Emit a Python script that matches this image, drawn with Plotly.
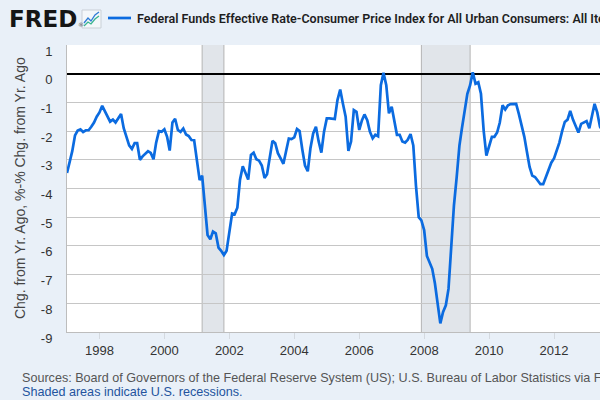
import pandas as pd
import plotly.graph_objects as go

# monthly values, Jan 1997 onward (Fed funds yoy chg minus CPI yoy %)
start_month = "1997-01-01"
spread = [
    -3.46, -3.10, -2.70, -2.15, -1.98, -1.94, -2.03, -1.97, -1.97, -1.85, -1.70, -1.50,  # 1997
    -1.35, -1.12, -1.30, -1.50, -1.67, -1.60, -1.70, -1.55, -1.40, -1.90, -2.25, -2.50,  # 1998
    -2.62, -2.42, -2.42, -3.00, -2.88, -2.80, -2.70, -2.76, -2.98, -2.40, -2.00, -2.02,  # 1999
    -1.94, -2.20, -2.68, -1.70, -1.57, -1.96, -2.03, -1.91, -2.12, -2.17, -2.31, -2.32,  # 2000
    -3.10, -3.71, -3.55, -4.73, -5.62, -5.77, -5.50, -5.56, -6.06, -6.17, -6.32, -6.17,  # 2001
    -5.54, -4.87, -4.90, -4.67, -3.69, -3.23, -3.45, -3.69, -2.83, -2.75, -2.98, -3.03,  # 2002
    -3.20, -3.63, -3.50, -2.98, -2.34, -2.42, -2.77, -2.95, -3.14, -2.70, -2.26, -2.28,  # 2003
    -2.22, -1.93, -2.00, -2.65, -3.20, -3.40, -2.60, -2.08, -1.85, -2.35, -2.75, -2.02,  # 2004
    -1.56, -1.56, -1.58, -1.58, -0.92, -0.55, -1.04, -1.50, -2.69, -2.36, -1.27, -1.33,  # 2005
    -1.96, -1.62, -1.42, -1.62, -2.02, -2.25, -2.13, -2.18, -0.40, 0.03, -0.40, -1.38,   # 2006
    -1.15, -1.60, -2.13, -2.13, -2.36, -2.40, -2.30, -2.10, -2.50, -3.90, -5.00, -5.11,  # 2007
    -5.45, -6.35, -6.60, -6.80, -7.30, -8.00, -8.70, -8.30, -8.07, -7.50, -6.00, -4.60,  # 2008
    -3.60, -2.50, -1.90, -1.30, -0.70, -0.40, 0.05, -0.35, -0.30, -0.70, -2.00, -2.85,   # 2009
    -2.50, -2.20, -2.20, -2.05, -1.70, -1.10, -1.25, -1.10, -1.06, -1.05, -1.05, -1.40,  # 2010
    -1.75, -2.20, -2.70, -3.25, -3.55, -3.60, -3.72, -3.85, -3.85, -3.60, -3.35, -3.10,  # 2011
    -2.95, -2.70, -2.40, -2.00, -1.68, -1.60, -1.30, -1.60, -1.80, -2.05, -1.75, -1.70,  # 2012
    -1.65, -1.90, -1.45, -1.05, -1.35, -1.85, -2.00,                                      # 2013
]
recessions = [("2001-03-01", "2001-11-01"), ("2007-12-01", "2009-06-01")]
y_ticks = [1, 0, -1, -2, -3, -4, -5, -6, -7, -8, -9]
y_tick_labels = ["1", "0", "-1", "-2", "-3", "-4", "-5", "-6", "-7", "-8", "-9"]

series_name = ("Federal Funds Effective Rate-Consumer Price Index for All Urban "
               "Consumers: All Items in U.S. City Average")
sources = ("Sources: Board of Governors of the Federal Reserve System (US); "
           "U.S. Bureau of Labor Statistics via FRED®")

dates = pd.date_range(start_month, periods=len(spread), freq="MS")

W, H = 600, 400
L, R, T, B = 67, 0, 45, 68
LINE_COLOR = "#0b6be0"


# pixel -> paper helpers for the decorations
def px(x):
    return (x - L) / (W - L - R)


def py(y):
    return (H - B - y) / (H - T - B)


fig = go.Figure()
fig.add_trace(go.Scatter(
    x=dates, y=spread, mode="lines",
    line=dict(color=LINE_COLOR, width=2.7),
    showlegend=False, hoverinfo="skip",
))

shapes = []
for r0, r1 in recessions:
    shapes.append(dict(type="rect", xref="x", yref="paper", x0=r0, x1=r1, y0=0, y1=1,
                       fillcolor="#e1e5ea", line=dict(width=0), layer="below"))
    for edge in (r0, r1):
        shapes.append(dict(type="line", xref="x", yref="paper", x0=edge, x1=edge,
                           y0=0, y1=1, line=dict(color="#b4b4b4", width=1), layer="below"))

# legend sample line
shapes.append(dict(type="line", xref="paper", yref="paper", x0=px(108), x1=px(131),
                   y0=py(18), y1=py(18), line=dict(color=LINE_COLOR, width=2.7)))

# little FRED chart icon
shapes.append(dict(type="rect", xref="paper", yref="paper", x0=px(82), x1=px(101),
                   y0=py(28), y1=py(10), fillcolor="#f4f7fa",
                   line=dict(color="#c9cfd6", width=1)))
shapes.append(dict(type="path", xref="paper", yref="paper",
                   path=f"M {px(84)} {py(23)} L {px(88)} {py(18)} L {px(91)} {py(21)} "
                        f"L {px(95)} {py(15)} L {px(99)} {py(12)}",
                   line=dict(color="#2f7bd6", width=1.3)))
shapes.append(dict(type="path", xref="paper", yref="paper",
                   path=f"M {px(84)} {py(26)} L {px(88)} {py(22)} L {px(91)} {py(24)} "
                        f"L {px(95)} {py(19)} L {px(99)} {py(16)}",
                   line=dict(color="#3bb58f", width=1.3)))

annotations = [
    dict(text="<b>FRED</b>", x=px(7), y=py(19), xref="paper", yref="paper",
         xanchor="left", yanchor="middle", showarrow=False,
         font=dict(family="DejaVu Sans", size=23, color="#151515")),
    dict(text="®", x=px(75.5), y=py(25), xref="paper", yref="paper",
         xanchor="left", yanchor="middle", showarrow=False,
         font=dict(family="DejaVu Sans", size=6, color="#555")),
    dict(text=series_name, x=px(135), y=py(18), xref="paper", yref="paper",
         xanchor="left", yanchor="middle", showarrow=False,
         font=dict(family="Roboto", size=12.5, color="#1e1e1e", weight=600)),
    dict(text="Chg. from Yr. Ago, %-% Chg. from Yr. Ago", textangle=-90,
         x=px(20), y=py(188), xref="paper", yref="paper",
         xanchor="center", yanchor="middle", showarrow=False,
         font=dict(family="Liberation Sans", size=14, color="#444")),
    dict(text=sources, x=px(20), y=py(378), xref="paper", yref="paper",
         xanchor="left", yanchor="middle", showarrow=False,
         font=dict(family="Liberation Sans", size=12.6, color="#555")),
    dict(text="Shaded areas indicate U.S. recessions.", x=px(20), y=py(392),
         xref="paper", yref="paper", xanchor="left", yanchor="middle", showarrow=False,
         font=dict(family="Liberation Sans", size=12.6, color="#24549e")),
]

fig.update_layout(
    width=W, height=H,
    margin=dict(l=L, r=R, t=T, b=B, pad=0),
    paper_bgcolor="#e9f0f8",
    plot_bgcolor="white",
    shapes=shapes,
    annotations=annotations,
    showlegend=False,
    xaxis=dict(
        type="date", range=["1997-01-01", "2013-06-01"],
        tick0="1998-01-01", dtick="M24", tickformat="%Y",
        showgrid=False, showline=True, linecolor="#bdbdbd", linewidth=1,
        ticks="outside", ticklen=6, tickcolor="#d4d9df",
        tickfont=dict(family="Liberation Sans", size=13, color="#333"),
    ),
    yaxis=dict(
        range=[-9, 1], tickvals=y_ticks, ticktext=y_tick_labels,
        showgrid=True, gridcolor="#c6c6c6", gridwidth=1,
        zeroline=True, zerolinecolor="#000", zerolinewidth=1.6,
        showline=True, linecolor="#bdbdbd", linewidth=1,
        ticks="", ticklabelstandoff=11, ticklabelshift=6,
        tickfont=dict(family="Liberation Sans", size=13, color="#333"),
    ),
)

# the page body has a default 8px margin; drop it so the figure sits at 0,0
fig.write_html("out.html", config={"displayModeBar": False},
               post_script="document.body.style.margin = '0';")
